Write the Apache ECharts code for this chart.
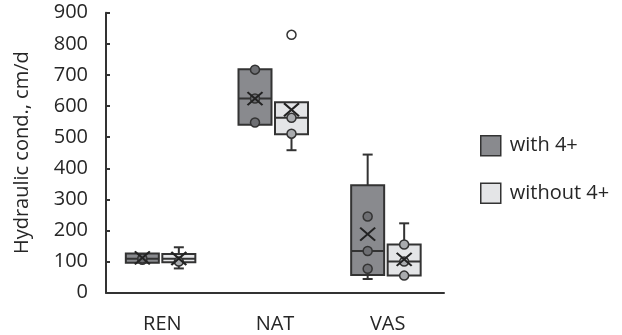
<!DOCTYPE html>
<html>
<head>
<meta charset="utf-8">
<script src="https://cdn.jsdelivr.net/npm/echarts@6/dist/echarts.min.js"></script>
<style>html,body{margin:0;padding:0;background:#fff;}#c{width:622px;height:335px;}</style>
</head>
<body>
<div id="c"></div>
<script>
// ---- data ----
const categories = ['REN', 'NAT', 'VAS'];
const yTicks = [0, 100, 200, 300, 400, 500, 600, 700, 800, 900];
const seriesNames = ['with 4+', 'without 4+'];
// box stats per category: min, q1, median, q3, max
const withMin    = [95, 540, 44];
const withQ1     = [96, 540, 57];
const withMedian = [109, 624, 134];
const withQ3     = [126, 718, 345];
const withMax    = [126, 718, 444];
const withoutMin    = [78, 458, 55];
const withoutQ1     = [98, 509, 55];
const withoutMedian = [109, 562, 100];
const withoutQ3     = [124, 612, 155];
const withoutMax    = [146, 612, 223];
const withMean    = [112, 624, 188];
const withoutMean = [110, 588, 107];
const withPointsREN = [106, 110];
const withPointsNAT = [717, 624, 547];
const withPointsVAS = [245, 134, 77];
const withoutPointsREN = [100];
const withoutPointsNAT = [562, 511];
const withoutPointsVAS = [155, 100, 55];
const withoutOutliersNAT = [829];

// ---- build ----
const FONT = 'Open Sans';
const TXT = '#262626';
const FS = 20;
const OFF_WITH = -20, OFF_WITHOUT = 16.5;
const BOX_W = 33, CAP_W = 10;

function stats(mn, q1, md, q3, mx) {
  return categories.map((c, i) => [i, mn[i], q1[i], md[i], q3[i], mx[i]]);
}
function pts(arrs) {
  const out = [];
  arrs.forEach((a, i) => a.forEach(v => out.push([i, v])));
  return out;
}
function boxRenderer(offset, fill) {
  return function (params, api) {
    const i = api.value(0);
    const cx = api.coord([i, 0])[0] + offset;
    const y = k => api.coord([i, api.value(k)])[1];
    const yMin = y(1), yQ1 = y(2), yMed = y(3), yQ3 = y(4), yMax = y(5);
    const ls = { stroke: '#333', lineWidth: 2 };
    const ch = [];
    if (yMax < yQ3 - 0.5) {
      ch.push({ type: 'line', shape: { x1: cx, y1: yQ3, x2: cx, y2: yMax }, style: ls });
      ch.push({ type: 'line', shape: { x1: cx - CAP_W / 2, y1: yMax, x2: cx + CAP_W / 2, y2: yMax }, style: ls });
    }
    if (yMin > yQ1 + 0.5) {
      ch.push({ type: 'line', shape: { x1: cx, y1: yQ1, x2: cx, y2: yMin }, style: ls });
      ch.push({ type: 'line', shape: { x1: cx - CAP_W / 2, y1: yMin, x2: cx + CAP_W / 2, y2: yMin }, style: ls });
    }
    ch.push({ type: 'rect', shape: { x: cx - BOX_W / 2, y: yQ3, width: BOX_W, height: yQ1 - yQ3 },
      style: { fill: fill, stroke: '#333', lineWidth: 2 } });
    ch.push({ type: 'line', shape: { x1: cx - BOX_W / 2, y1: yMed, x2: cx + BOX_W / 2, y2: yMed }, style: ls });
    return { type: 'group', children: ch };
  };
}

const WITH_FILL = '#898a8e', WITHOUT_FILL = '#e4e5e7';
const XPATH = 'path://M0,0L10,10M10,0L0,10';

const option = {
  animation: false,
  backgroundColor: '#fff',
  grid: { left: 106, right: 178, top: 12.7, bottom: 42.3, containLabel: false },
  legend: {
    orient: 'vertical', left: 480, top: 135, padding: 0, itemWidth: 20, itemHeight: 20, itemGap: 26,
    textStyle: { fontFamily: FONT, fontSize: FS, color: TXT, padding: [0, 0, 0, 4] },
    selectedMode: false,
    data: [
      { name: seriesNames[0], icon: 'rect', itemStyle: { color: WITH_FILL, borderColor: '#333', borderWidth: 1.5 } },
      { name: seriesNames[1], icon: 'rect', itemStyle: { color: WITHOUT_FILL, borderColor: '#333', borderWidth: 1.5 } }
    ]
  },
  xAxis: {
    type: 'category', data: categories, boundaryGap: true,
    axisLine: { lineStyle: { color: '#333', width: 2 } },
    axisTick: { show: false },
    axisLabel: { fontFamily: FONT, fontSize: FS, color: TXT, margin: 22 },
    splitLine: { show: false }
  },
  yAxis: {
    type: 'value', min: yTicks[0], max: yTicks[yTicks.length - 1], interval: 100,
    name: 'Hydraulic cond., cm/d', nameLocation: 'middle', nameGap: 74, nameRotate: 90,
    nameTextStyle: { fontFamily: FONT, fontSize: FS, color: TXT },
    axisLine: { show: true, lineStyle: { color: '#333', width: 2 } },
    axisTick: { show: true, inside: true, length: 4, lineStyle: { color: '#333', width: 2 } },
    axisLabel: { fontFamily: FONT, fontSize: FS, color: TXT, margin: 18 },
    splitLine: { show: false }
  },
  series: [
    { name: seriesNames[0], type: 'custom', renderItem: boxRenderer(OFF_WITH, WITH_FILL),
      itemStyle: { color: WITH_FILL }, data: stats(withMin, withQ1, withMedian, withQ3, withMax), z: 2,
      encode: { x: 0, y: [1, 2, 3, 4, 5] } },
    { name: seriesNames[1], type: 'custom', renderItem: boxRenderer(OFF_WITHOUT, WITHOUT_FILL),
      itemStyle: { color: WITHOUT_FILL }, data: stats(withoutMin, withoutQ1, withoutMedian, withoutQ3, withoutMax), z: 2,
      encode: { x: 0, y: [1, 2, 3, 4, 5] } },
    { name: 'pts-with', type: 'scatter', symbol: 'circle', symbolSize: 9, symbolOffset: [OFF_WITH, 0], z: 3,
      itemStyle: { color: '#6e6f73', borderColor: '#333', borderWidth: 1.5, opacity: 1 },
      data: pts([withPointsREN, withPointsNAT, withPointsVAS]) },
    { name: 'pts-without', type: 'scatter', symbol: 'circle', symbolSize: 9, symbolOffset: [OFF_WITHOUT, 0], z: 3,
      itemStyle: { color: '#a9abae', borderColor: '#333', borderWidth: 1.5, opacity: 1 },
      data: pts([withoutPointsREN, withoutPointsNAT, withoutPointsVAS]) },
    { name: 'out-without', type: 'scatter', symbol: 'circle', symbolSize: 9, symbolOffset: [OFF_WITHOUT, 0], z: 3,
      itemStyle: { color: '#fff', borderColor: '#333', borderWidth: 1.5, opacity: 1 },
      data: pts([[], withoutOutliersNAT, []]) },
    { name: 'mean-with', type: 'scatter', symbol: XPATH, symbolSize: [15, 13], symbolOffset: [OFF_WITH, 0], z: 4,
      itemStyle: { color: 'none', borderColor: '#222', borderWidth: 2, opacity: 1 },
      data: categories.map((c, i) => [i, withMean[i]]) },
    { name: 'mean-without', type: 'scatter', symbol: XPATH, symbolSize: [15, 13], symbolOffset: [OFF_WITHOUT, 0], z: 4,
      itemStyle: { color: 'none', borderColor: '#222', borderWidth: 2, opacity: 1 },
      data: categories.map((c, i) => [i, withoutMean[i]]) }
  ]
};
const chart = echarts.init(document.getElementById('c'), null, { renderer: 'canvas' });
chart.setOption(option);
</script>
</body>
</html>
